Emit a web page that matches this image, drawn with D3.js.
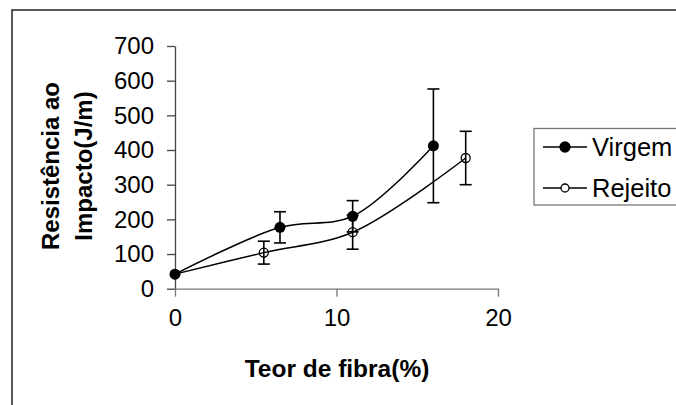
<!DOCTYPE html>
<html>
<head>
<meta charset="utf-8">
<script src="https://cdn.jsdelivr.net/npm/d3@7"></script>
<style>
  body { margin: 0; background: #fff; }
  svg { display: block; font-family: "Liberation Sans", Arial, sans-serif; }
</style>
</head>
<body>
<svg id="chart" width="676" height="405"></svg>
<script>
// series
let fiberVirgem = [0, 6.5, 11, 16];
let impactVirgem = [42, 177, 209, 412];
let errVirgem = [0, 45, 45, 164];

let fiberRejeito = [0, 5.5, 11, 18];
let impactRejeito = [42, 104, 163, 377];
let errRejeito = [0, 33, 49, 77];

let xTicks = [0, 10, 20];
let yTicks = [0, 100, 200, 300, 400, 500, 600, 700];

let seriesNames = ["Virgem", "Rejeito"];

let svg = d3.select("#chart");

// outer frame (runs off the right and bottom edge)
svg.append("rect").
attr("x", 12).
attr("y", 10).
attr("width", 700).
attr("height", 420).
attr("fill", "none").
attr("stroke", "#222").
attr("stroke-width", 1.5);

// scales
let x = d3.scaleLinear().domain([0, 20]).range([175, 498]);
let y = d3.scaleLinear().domain([0, 700]).range([288.7, 46]);

// axes
let yAxis = svg.append("g").
attr("transform", "translate(175,0)").
call(d3.axisLeft(y).tickValues(yTicks).tickSize(8).tickSizeOuter(0).tickPadding(13));

let xAxis = svg.append("g").
attr("transform", "translate(0," + y(0) + ")").
call(d3.axisBottom(x).tickValues(xTicks).tickSize(8).tickSizeOuter(0).tickPadding(12));

yAxis.selectAll("path, line").attr("stroke", "#444").attr("stroke-width", 1.3);
xAxis.selectAll("path, line").attr("stroke", "#777").attr("stroke-width", 1.3);
svg.selectAll(".tick text").
attr("font-size", 24).
attr("font-family", "Liberation Sans, Arial, sans-serif").
attr("fill", "#000");

// axis titles
svg.append("text").
attr("x", 337).
attr("y", 377).
attr("text-anchor", "middle").
attr("font-size", 24.5).
attr("font-weight", "bold").
text("Teor de fibra(%)");

let yTitle = svg.append("text").
attr("transform", "translate(0,166) rotate(-90)").
attr("text-anchor", "middle").
attr("font-size", 24).
attr("font-weight", "bold");
yTitle.append("tspan").attr("x", 0).attr("y", 58.5).text("Resistência ao");
yTitle.append("tspan").attr("x", 0).attr("y", 92).text("Impacto(J/m)");

// series
let virgem = fiberVirgem.map((f, i) => ({ x: f, y: impactVirgem[i], e: errVirgem[i] }));
let rejeito = fiberRejeito.map((f, i) => ({ x: f, y: impactRejeito[i], e: errRejeito[i] }));

let line = d3.line().
x(d => x(d.x)).
y(d => y(d.y)).
curve(d3.curveCatmullRom.alpha(0.5));

function drawErrors(data) {
  let g = svg.append("g").attr("stroke", "#000").attr("stroke-width", 1.6);
  data.filter(d => d.e > 0).forEach(d => {
    g.append("line").
    attr("x1", x(d.x)).attr("x2", x(d.x)).
    attr("y1", y(d.y - d.e)).attr("y2", y(d.y + d.e));
    [d.y - d.e, d.y + d.e].forEach(v => {
      g.append("line").
      attr("x1", x(d.x) - 6).attr("x2", x(d.x) + 6).
      attr("y1", y(v)).attr("y2", y(v));
    });
  });
}

drawErrors(rejeito);
drawErrors(virgem);

svg.append("path").
datum(rejeito).
attr("d", line).
attr("fill", "none").
attr("stroke", "#000").
attr("stroke-width", 1.5);

svg.append("path").
datum(virgem).
attr("d", line).
attr("fill", "none").
attr("stroke", "#000").
attr("stroke-width", 1.5);

svg.selectAll(".mk-rej").
data(rejeito).
enter().
append("circle").
attr("cx", d => x(d.x)).
attr("cy", d => y(d.y)).
attr("r", 4.5).
attr("fill", "none").
attr("stroke", "#000").
attr("stroke-width", 1.3);

svg.selectAll(".mk-vir").
data(virgem).
enter().
append("circle").
attr("cx", d => x(d.x)).
attr("cy", d => y(d.y)).
attr("r", 5.5).
attr("fill", "#000");

// legend
let legend = svg.append("g");
legend.append("rect").
attr("x", 534).
attr("y", 128.5).
attr("width", 200).
attr("height", 76.5).
attr("fill", "#fff").
attr("stroke", "#777").
attr("stroke-width", 1.3);

let legendRows = [147, 188];
seriesNames.forEach((name, i) => {
  let ly = legendRows[i];
  legend.append("line").
  attr("x1", 543).attr("x2", 587).
  attr("y1", ly).attr("y2", ly).
  attr("stroke", "#000").attr("stroke-width", 1.5);
  legend.append("circle").
  attr("cx", 565).
  attr("cy", ly).
  attr("r", i == 0 ? 5 : 4).
  attr("fill", i == 0 ? "#000" : "#fff").
  attr("stroke", "#000").
  attr("stroke-width", 1.3);
  legend.append("text").
  attr("x", 592).
  attr("y", ly + 9).
  attr("font-size", 25.5).
  text(name);
});
</script>
</body>
</html>
